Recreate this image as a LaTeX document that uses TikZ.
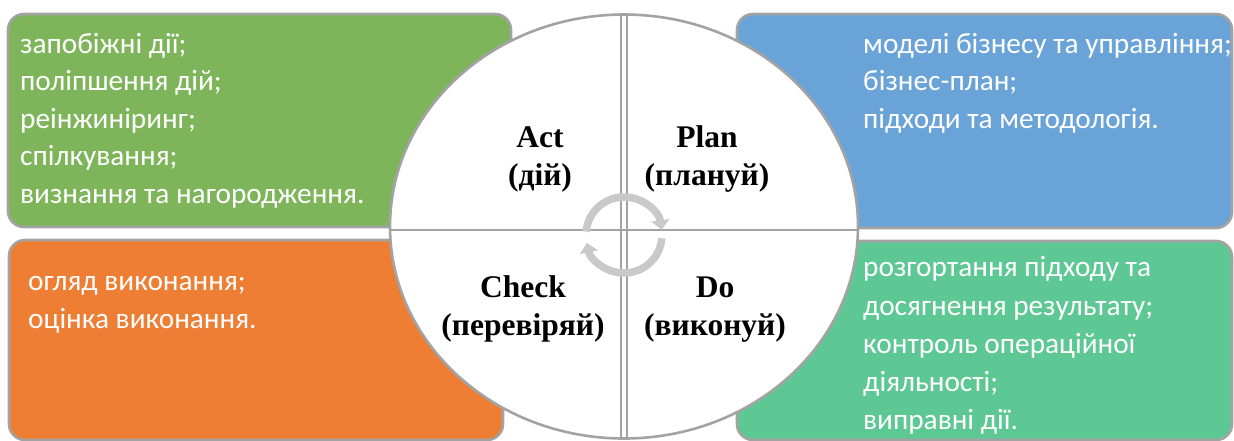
\documentclass[tikz,border=0pt]{standalone}
\usepackage{fontspec}
\setmainfont{Carlito}
\newfontfamily\tnr{Liberation Serif}
\usetikzlibrary{arrows.meta,shapes.geometric}
\definecolor{bgreen}{HTML}{7EB55A}
\definecolor{bblue}{HTML}{6AA3D7}
\definecolor{borange}{HTML}{ED7E33}
\definecolor{bteal}{HTML}{5EC895}
\definecolor{edgegray}{HTML}{A3A3A3}
\definecolor{arrgray}{HTML}{C9C9C9}
\tikzset{
  box/.style={draw=edgegray, line width=2.6pt, rounded corners=16pt},
  boxtext/.style={text=white, align=left, inner sep=0pt, anchor=north west,
    font=\fontsize{29.3}{37.5}\selectfont},
  lbl/.style={align=center, inner sep=0pt, anchor=north, font=\tnr\bfseries\fontsize{31.5}{38}\selectfont},
  divider/.style={draw=edgegray, line width=2.4pt},
  cyc/.style={draw=arrgray, line width=7.5pt, -{Triangle[width=18pt,length=9.5pt]}}
}
\begin{document}
\begin{tikzpicture}[x=1pt,y=-1pt]
\useasboundingbox (0,0) rectangle (1234,441);
% boxes
\draw[box, fill=bgreen] (8,14) rectangle (511,227);
\draw[box, fill=bblue] (737,14) rectangle (1232,228);
\draw[box, fill=borange] (9,240) rectangle (503,440);
\draw[box, fill=bteal] (737,241) rectangle (1232,440);
% texts
\node[boxtext] (tact) at (20,26.75) {\strut запобіжні дії;\\поліпшення дій;\\реінжиніринг;\\спілкування;\\визнання та нагородження.};
\node[boxtext] (tplan) at (863,26.75) {\strut моделі бізнесу та управління;\\бізнес-план;\\підходи та методологія.};
\node[boxtext] (tcheck) at (28,264.5) {\strut огляд виконання;\\оцінка виконання.};
\node[boxtext, font=\fontsize{29.3}{38.2}\selectfont] (tdo) at (863,250) {\strut розгортання підходу та\\досягнення результату;\\контроль операційної\\діяльності;\\виправні дії.};
% circle
\node[draw=edgegray, line width=2.6pt, fill=white, ellipse, minimum width=468pt, minimum height=424pt, inner sep=0pt] (circ) at (624,226.5) {};
\coordinate (vt) at (624,15);
\coordinate (vb) at (624,438);
\draw[divider] ([xshift=-2.8pt]vt) -- ([xshift=-2.8pt]vb);
\draw[divider] ([xshift=2.8pt]vt) -- ([xshift=2.8pt]vb);
\draw[divider] (circ.west |- 0,230) -- (circ.east |- 0,230);
% labels
\node[lbl] (act) at (540,120.4) {\strut Act\\(дій)};
\node[lbl] (plan) at (707,120.4) {\strut Plan\\(плануй)};
\node[lbl] (check) at (523,270.4) {\strut Check\\(перевіряй)};
\node[lbl] (do) at (715,270.4) {\strut Do\\(виконуй)};
% cycle arrows
\coordinate (cc) at (624,235);
\draw[cyc] ([shift={(185:38)}]cc) arc[start angle=185, end angle=352, radius=38];
\draw[cyc] ([shift={(5:38)}]cc) arc[start angle=5, end angle=168, radius=38];
\end{tikzpicture}
\end{document}
